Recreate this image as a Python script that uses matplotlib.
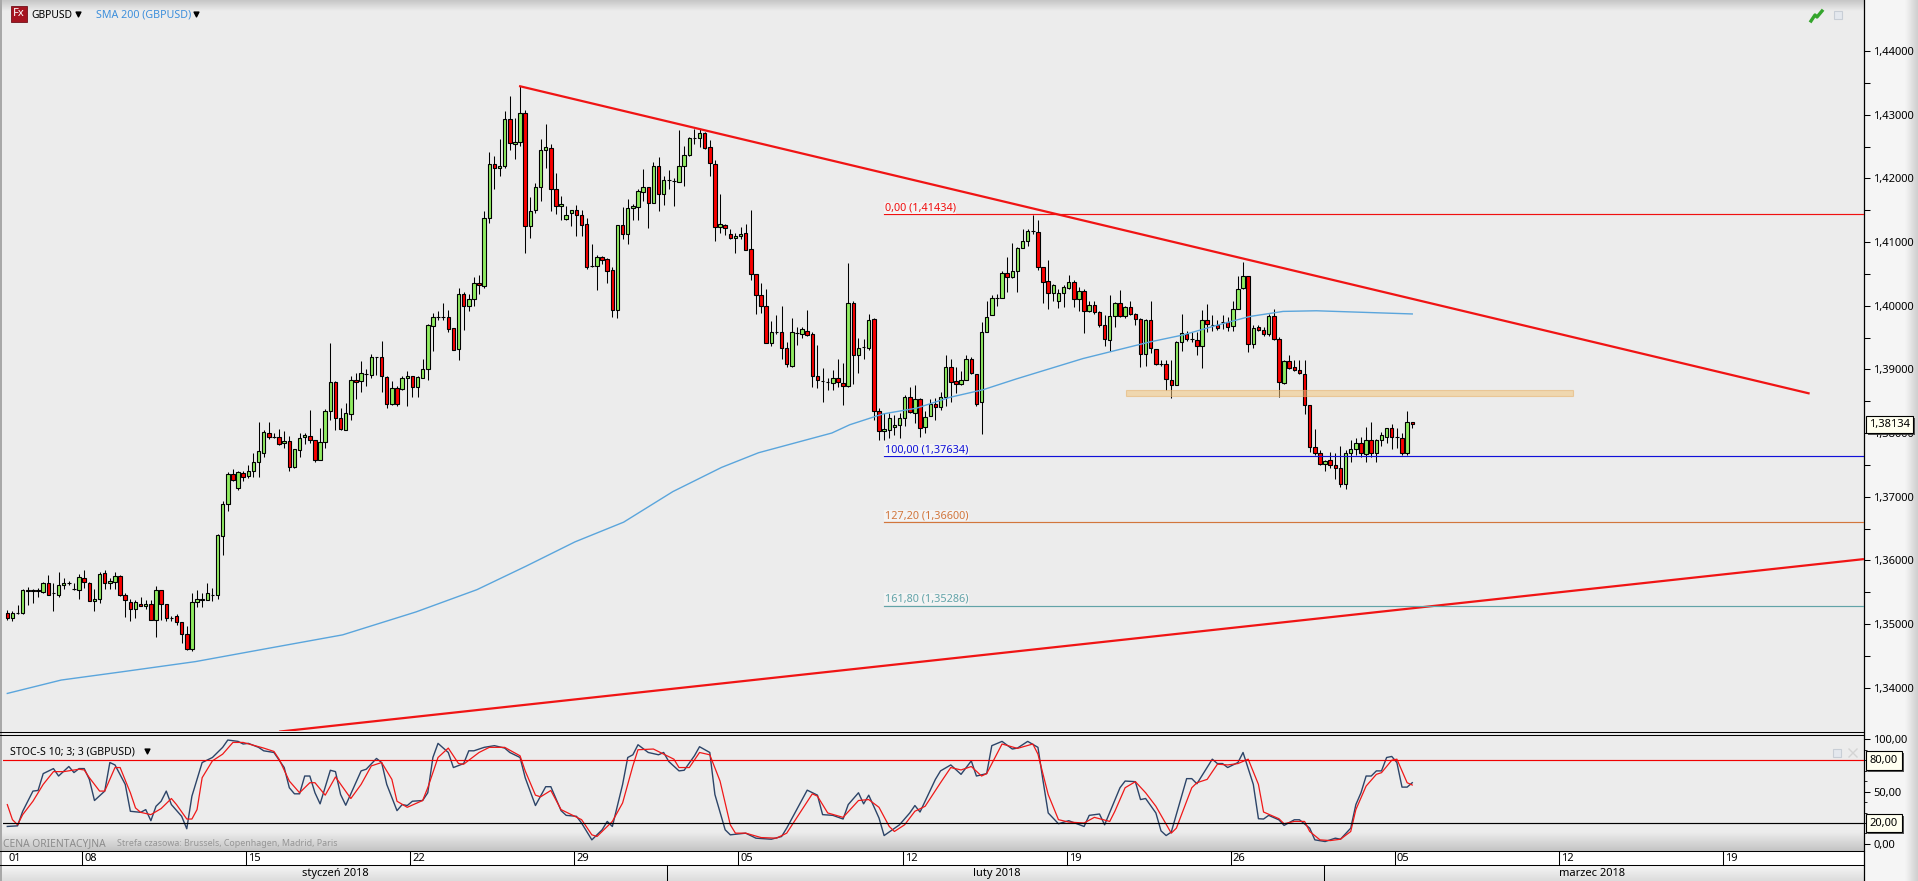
import numpy as np
import matplotlib
matplotlib.use('Agg')
import matplotlib.pyplot as plt
import matplotlib.patheffects as pe
from matplotlib.patches import Rectangle

plt.rcParams['font.family'] = ['Noto Sans', 'DejaVu Sans']

W, H = 1918, 881

# Candles, one row of values per ten bars
candle_open = [
    1.3517, 1.3509, 1.3517, 1.3517, 1.3554, 1.3552, 1.3554, 1.3550, 1.3564, 1.3548,
    1.3546, 1.3562, 1.3564, 1.3555, 1.3554, 1.3573, 1.3565, 1.3536, 1.3539, 1.3580,
    1.3564, 1.3566, 1.3576, 1.3545, 1.3535, 1.3523, 1.3532, 1.3529, 1.3532, 1.3507,
    1.3553, 1.3532, 1.3510, 1.3512, 1.3503, 1.3484, 1.3460, 1.3534, 1.3538, 1.3538,
    1.3546, 1.3546, 1.3638, 1.3688, 1.3735, 1.3713, 1.3737, 1.3732, 1.3740, 1.3754,
    1.3769, 1.3800, 1.3794, 1.3793, 1.3784, 1.3787, 1.3746, 1.3773, 1.3794, 1.3795,
    1.3789, 1.3758, 1.3786, 1.3834, 1.3880, 1.3823, 1.3805, 1.3830, 1.3883, 1.3881,
    1.3892, 1.3891, 1.3919, 1.3919, 1.3888, 1.3845, 1.3871, 1.3869, 1.3886, 1.3889,
    1.3872, 1.3886, 1.3900, 1.3968, 1.3983, 1.3983, 1.3982, 1.3965, 1.3932, 1.4019,
    1.3999, 1.4010, 1.4035, 1.4031, 1.4137, 1.4223, 1.4216, 1.4220, 1.4293, 1.4254,
    1.4257, 1.4302, 1.4125, 1.4150, 1.4187, 1.4244, 1.4247, 1.4183, 1.4156, 1.4136,
    1.4145, 1.4150, 1.4142, 1.4128, 1.4063, 1.4063, 1.4076, 1.4073, 1.4056, 1.3993,
    1.4126, 1.4112, 1.4153, 1.4155, 1.4178, 1.4186, 1.4161, 1.4220, 1.4175, 1.4198,
    1.4196, 1.4195, 1.4219, 1.4236, 1.4263, 1.4264, 1.4271, 1.4249, 1.4222, 1.4123,
    1.4127, 1.4112, 1.4106, 1.4110, 1.4114, 1.4089, 1.4049, 1.4016, 1.3999, 1.3942,
    1.3959, 1.3959, 1.3933, 1.3906, 1.3957, 1.3955, 1.3961, 1.3955, 1.3889, 1.3881,
    1.3880, 1.3878, 1.3886, 1.3879, 1.3874, 1.4004, 1.3922, 1.3935, 1.3934, 1.3979,
    1.3835, 1.3803, 1.3805, 1.3809, 1.3812, 1.3823, 1.3857, 1.3831, 1.3853, 1.3809,
    1.3826, 1.3846, 1.3841, 1.3856, 1.3903, 1.3881, 1.3877, 1.3883, 1.3917, 1.3893,
    1.3848, 1.3958, 1.3985, 1.4012, 1.4012, 1.4052, 1.4045, 1.4055, 1.4091, 1.4102,
    1.4117, 1.4116, 1.4061, 1.4039, 1.4020, 1.4008, 1.4020, 1.4028, 1.4037, 1.4011,
    1.4023, 1.3992, 1.4001, 1.3990, 1.3969, 1.3946, 1.3984, 1.4004, 1.3984, 1.3998,
    1.3987, 1.3979, 1.3924, 1.3978, 1.3932, 1.3908, 1.3908, 1.3884, 1.3876, 1.3943,
    1.3956, 1.3947, 1.3946, 1.3937, 1.3978, 1.3970, 1.3969, 1.3975, 1.3975, 1.3968,
    1.3995, 1.4028, 1.4047, 1.3940, 1.3966, 1.3962, 1.3955, 1.3984, 1.3948, 1.3879,
    1.3913, 1.3903, 1.3899, 1.3893, 1.3844, 1.3778, 1.3769, 1.3752, 1.3758, 1.3750,
    1.3745, 1.3720, 1.3768, 1.3775, 1.3784, 1.3767, 1.3789, 1.3768, 1.3789, 1.3794,
    1.3808, 1.3793, 1.3792, 1.3768, 1.3817,
]
candle_close = [
    1.3510, 1.3517, 1.3517, 1.3554, 1.3552, 1.3554, 1.3552, 1.3565, 1.3546, 1.3548,
    1.3561, 1.3565, 1.3564, 1.3555, 1.3574, 1.3566, 1.3536, 1.3540, 1.3579, 1.3564,
    1.3568, 1.3576, 1.3545, 1.3537, 1.3523, 1.3534, 1.3529, 1.3532, 1.3507, 1.3553,
    1.3532, 1.3510, 1.3510, 1.3503, 1.3484, 1.3461, 1.3534, 1.3539, 1.3540, 1.3548,
    1.3546, 1.3640, 1.3688, 1.3735, 1.3726, 1.3739, 1.3731, 1.3740, 1.3754, 1.3771,
    1.3801, 1.3794, 1.3794, 1.3783, 1.3787, 1.3746, 1.3775, 1.3792, 1.3797, 1.3789,
    1.3758, 1.3786, 1.3834, 1.3880, 1.3823, 1.3807, 1.3831, 1.3883, 1.3880, 1.3894,
    1.3892, 1.3920, 1.3919, 1.3889, 1.3846, 1.3871, 1.3845, 1.3886, 1.3889, 1.3872,
    1.3888, 1.3900, 1.3969, 1.3982, 1.3983, 1.3983, 1.3963, 1.3931, 1.4018, 1.3999,
    1.4010, 1.4035, 1.4032, 1.4137, 1.4222, 1.4216, 1.4220, 1.4293, 1.4255, 1.4257,
    1.4302, 1.4125, 1.4148, 1.4187, 1.4244, 1.4249, 1.4183, 1.4157, 1.4159, 1.4143,
    1.4150, 1.4142, 1.4126, 1.4061, 1.4063, 1.4076, 1.4071, 1.4054, 1.3994, 1.4126,
    1.4112, 1.4153, 1.4157, 1.4180, 1.4186, 1.4161, 1.4220, 1.4175, 1.4198, 1.4198,
    1.4196, 1.4219, 1.4236, 1.4263, 1.4263, 1.4271, 1.4247, 1.4224, 1.4123, 1.4128,
    1.4122, 1.4106, 1.4110, 1.4112, 1.4088, 1.4049, 1.4016, 1.3999, 1.3942, 1.3958,
    1.3959, 1.3933, 1.3908, 1.3958, 1.3957, 1.3963, 1.3954, 1.3889, 1.3883, 1.3881,
    1.3880, 1.3886, 1.3880, 1.3874, 1.4004, 1.3922, 1.3934, 1.3935, 1.3977, 1.3835,
    1.3803, 1.3806, 1.3823, 1.3812, 1.3823, 1.3857, 1.3833, 1.3853, 1.3808, 1.3825,
    1.3846, 1.3841, 1.3856, 1.3903, 1.3880, 1.3877, 1.3883, 1.3917, 1.3894, 1.3846,
    1.3958, 1.3983, 1.4012, 1.4012, 1.4052, 1.4045, 1.4055, 1.4091, 1.4102, 1.4117,
    1.4117, 1.4061, 1.4037, 1.4020, 1.4033, 1.4020, 1.4029, 1.4037, 1.4011, 1.4023,
    1.3992, 1.4001, 1.3990, 1.3969, 1.3948, 1.3984, 1.4004, 1.3984, 1.3998, 1.3987,
    1.3979, 1.3924, 1.3978, 1.3934, 1.3909, 1.3908, 1.3885, 1.3876, 1.3943, 1.3957,
    1.3947, 1.3947, 1.3937, 1.3978, 1.3971, 1.3970, 1.3965, 1.3975, 1.3966, 1.3995,
    1.4026, 1.4047, 1.3940, 1.3965, 1.3962, 1.3955, 1.3984, 1.3948, 1.3880, 1.3913,
    1.3902, 1.3899, 1.3894, 1.3844, 1.3778, 1.3769, 1.3752, 1.3756, 1.3749, 1.3745,
    1.3720, 1.3768, 1.3775, 1.3784, 1.3768, 1.3789, 1.3768, 1.3789, 1.3797, 1.3808,
    1.3794, 1.3793, 1.3768, 1.3817, 1.3814,
]
candle_high = [
    1.3522, 1.3520, 1.3530, 1.3555, 1.3558, 1.3555, 1.3557, 1.3566, 1.3577, 1.3564,
    1.3581, 1.3573, 1.3567, 1.3564, 1.3578, 1.3585, 1.3566, 1.3555, 1.3581, 1.3585,
    1.3572, 1.3581, 1.3577, 1.3548, 1.3540, 1.3538, 1.3543, 1.3538, 1.3538, 1.3560,
    1.3554, 1.3532, 1.3513, 1.3516, 1.3503, 1.3497, 1.3548, 1.3553, 1.3548, 1.3564,
    1.3557, 1.3642, 1.3693, 1.3738, 1.3743, 1.3740, 1.3740, 1.3749, 1.3768, 1.3818,
    1.3805, 1.3817, 1.3800, 1.3806, 1.3803, 1.3796, 1.3775, 1.3800, 1.3800, 1.3836,
    1.3789, 1.3808, 1.3838, 1.3941, 1.3881, 1.3839, 1.3847, 1.3889, 1.3894, 1.3913,
    1.3901, 1.3924, 1.3920, 1.3944, 1.3889, 1.3881, 1.3874, 1.3889, 1.3898, 1.3890,
    1.3889, 1.3916, 1.3971, 1.3988, 1.3991, 1.4004, 1.3994, 1.3965, 1.4027, 1.4021,
    1.4019, 1.4045, 1.4048, 1.4149, 1.4242, 1.4235, 1.4262, 1.4306, 1.4329, 1.4295,
    1.4345, 1.4308, 1.4171, 1.4192, 1.4262, 1.4286, 1.4254, 1.4208, 1.4172, 1.4157,
    1.4151, 1.4158, 1.4150, 1.4137, 1.4097, 1.4080, 1.4078, 1.4075, 1.4061, 1.4126,
    1.4155, 1.4167, 1.4160, 1.4184, 1.4215, 1.4186, 1.4225, 1.4233, 1.4204, 1.4213,
    1.4200, 1.4276, 1.4251, 1.4265, 1.4277, 1.4278, 1.4272, 1.4261, 1.4229, 1.4175,
    1.4129, 1.4120, 1.4114, 1.4123, 1.4129, 1.4150, 1.4049, 1.4035, 1.4026, 1.3976,
    1.3986, 1.4000, 1.3943, 1.3980, 1.3967, 1.3967, 1.3993, 1.3959, 1.3938, 1.3902,
    1.3886, 1.3899, 1.3917, 1.3910, 1.4067, 1.4007, 1.3950, 1.3947, 1.3987, 1.3980,
    1.3839, 1.3831, 1.3831, 1.3828, 1.3831, 1.3860, 1.3872, 1.3876, 1.3855, 1.3834,
    1.3853, 1.3855, 1.3865, 1.3923, 1.3917, 1.3904, 1.3897, 1.3923, 1.3919, 1.3893,
    1.3974, 1.4008, 1.4016, 1.4019, 1.4055, 1.4076, 1.4099, 1.4092, 1.4120, 1.4121,
    1.4143, 1.4134, 1.4061, 1.4072, 1.4034, 1.4026, 1.4032, 1.4048, 1.4040, 1.4029,
    1.4026, 1.4008, 1.4008, 1.3992, 1.3985, 1.4016, 1.4006, 1.4024, 1.4000, 1.4007,
    1.3988, 1.3981, 1.3979, 1.4008, 1.3932, 1.3914, 1.3914, 1.3914, 1.3945, 1.3987,
    1.3961, 1.3958, 1.3958, 1.3993, 1.4003, 1.3985, 1.3977, 1.3985, 1.3982, 1.4008,
    1.4046, 1.4069, 1.4047, 1.3969, 1.3969, 1.3966, 1.3987, 1.3995, 1.3951, 1.3915,
    1.3922, 1.3915, 1.3915, 1.3914, 1.3844, 1.3807, 1.3773, 1.3758, 1.3770, 1.3768,
    1.3779, 1.3774, 1.3789, 1.3792, 1.3793, 1.3810, 1.3818, 1.3790, 1.3802, 1.3808,
    1.3814, 1.3808, 1.3800, 1.3835, 1.3818,
]
candle_low = [
    1.3507, 1.3504, 1.3515, 1.3516, 1.3530, 1.3533, 1.3543, 1.3548, 1.3546, 1.3521,
    1.3543, 1.3555, 1.3561, 1.3553, 1.3539, 1.3557, 1.3536, 1.3520, 1.3533, 1.3555,
    1.3555, 1.3555, 1.3544, 1.3511, 1.3504, 1.3510, 1.3528, 1.3524, 1.3506, 1.3480,
    1.3507, 1.3504, 1.3504, 1.3498, 1.3470, 1.3459, 1.3458, 1.3527, 1.3527, 1.3538,
    1.3536, 1.3540, 1.3609, 1.3677, 1.3725, 1.3710, 1.3724, 1.3729, 1.3731, 1.3731,
    1.3763, 1.3790, 1.3792, 1.3781, 1.3776, 1.3741, 1.3745, 1.3763, 1.3783, 1.3784,
    1.3755, 1.3758, 1.3776, 1.3821, 1.3805, 1.3804, 1.3804, 1.3820, 1.3854, 1.3864,
    1.3874, 1.3886, 1.3891, 1.3865, 1.3839, 1.3844, 1.3842, 1.3867, 1.3842, 1.3857,
    1.3857, 1.3886, 1.3883, 1.3929, 1.3978, 1.3977, 1.3959, 1.3930, 1.3915, 1.3962,
    1.3992, 1.3999, 1.4018, 1.4027, 1.4130, 1.4184, 1.4203, 1.4216, 1.4244, 1.4231,
    1.4251, 1.4082, 1.4107, 1.4145, 1.4165, 1.4217, 1.4148, 1.4144, 1.4135, 1.4135,
    1.4125, 1.4110, 1.4110, 1.4057, 1.4060, 1.4025, 1.4066, 1.4035, 1.3983, 1.3980,
    1.4104, 1.4097, 1.4134, 1.4134, 1.4164, 1.4122, 1.4161, 1.4149, 1.4158, 1.4183,
    1.4157, 1.4195, 1.4188, 1.4235, 1.4254, 1.4249, 1.4246, 1.4203, 1.4101, 1.4114,
    1.4111, 1.4104, 1.4082, 1.4105, 1.4088, 1.4040, 1.3987, 1.3988, 1.3941, 1.3936,
    1.3955, 1.3917, 1.3903, 1.3904, 1.3939, 1.3950, 1.3953, 1.3872, 1.3870, 1.3848,
    1.3868, 1.3868, 1.3872, 1.3844, 1.3873, 1.3877, 1.3894, 1.3917, 1.3931, 1.3821,
    1.3789, 1.3789, 1.3792, 1.3797, 1.3792, 1.3811, 1.3831, 1.3815, 1.3794, 1.3800,
    1.3826, 1.3821, 1.3836, 1.3843, 1.3849, 1.3863, 1.3875, 1.3883, 1.3893, 1.3842,
    1.3799, 1.3958, 1.3985, 1.4000, 1.4012, 1.4021, 1.4044, 1.4021, 1.4090, 1.4094,
    1.4113, 1.4056, 1.4004, 1.3995, 1.4008, 1.3996, 1.3998, 1.4026, 1.3998, 1.3992,
    1.3957, 1.3990, 1.3987, 1.3967, 1.3936, 1.3929, 1.3966, 1.3982, 1.3980, 1.3985,
    1.3969, 1.3903, 1.3906, 1.3926, 1.3907, 1.3905, 1.3867, 1.3855, 1.3875, 1.3929,
    1.3944, 1.3943, 1.3922, 1.3902, 1.3958, 1.3960, 1.3962, 1.3964, 1.3961, 1.3961,
    1.3995, 1.4026, 1.3927, 1.3934, 1.3960, 1.3953, 1.3953, 1.3946, 1.3856, 1.3877,
    1.3900, 1.3897, 1.3892, 1.3830, 1.3770, 1.3765, 1.3749, 1.3740, 1.3745, 1.3727,
    1.3715, 1.3712, 1.3755, 1.3766, 1.3763, 1.3754, 1.3763, 1.3755, 1.3780, 1.3784,
    1.3775, 1.3776, 1.3766, 1.3766, 1.3808,
]

# SMA 200, bar position and price
sma_bar = [0, 10.5, 22.4, 36.7, 51, 65.4, 79.7, 91.6, 101.2, 110.7, 120.2, 129.8, 139.3,
           146.5, 160.8, 164.3, 170.8, 177.3, 183.8, 190.3, 196.8, 203.3, 209.8, 216.3,
           222.8, 229.3, 235.8, 242.3, 248.8, 255.3, 274]
sma_val = [1.3391, 1.3412, 1.3425, 1.3441, 1.3462, 1.3483, 1.3519, 1.3554, 1.3591, 1.3629,
           1.3660, 1.3708, 1.3746, 1.3769, 1.3800, 1.3813, 1.3830, 1.3839, 1.3856, 1.3868,
           1.3885, 1.3901, 1.3917, 1.3930, 1.3943, 1.3954, 1.3969, 1.3983, 1.3991, 1.3992,
           1.3987]

# Fibonacci levels
fib_labels = ['0,00 (1,41434)', '100,00 (1,37634)', '127,20 (1,36600)', '161,80 (1,35286)']
fib_prices = [1.41434, 1.37634, 1.36600, 1.35286]
fib_colors = ['#f01010', '#1010d8', '#d2763c', '#62a3a8']
fib_start = 171

# Trend lines and the zone
upper_line_bar = [99.8, 351.5]
upper_line_val = [1.4345, 1.3862]
lower_line_bar = [53, 362.1]
lower_line_val = [1.3331, 1.3602]
zone_bar = [218.2, 305.3]
zone_val = [1.3858, 1.3867]

# Slow stochastic, the dark %K and the red %D
stoch_k_bar = [
    0, 2, 3, 5, 6, 7, 9, 10, 12, 13, 14, 15, 16, 17, 19, 20, 21, 23, 24, 26, 27, 28, 29, 30, 31,
    32, 34, 35, 36, 38, 40, 42, 43, 45, 46, 47, 49, 50, 52, 54, 55, 56, 57, 58, 59, 60, 61, 63,
    64, 65, 66, 69, 70, 72, 73, 74, 76, 77, 78, 79, 81, 82, 83, 84, 86, 87, 89, 90, 91, 93, 95,
    97, 98, 100, 101, 103, 105, 106, 108, 109, 111, 112, 114, 116, 117, 118, 120, 121, 122, 123,
    125, 127, 128, 129, 131, 132, 134, 135, 137, 138, 140, 141, 144, 146, 149, 151, 152, 155,
    156, 158, 159, 161, 163, 164, 166, 167, 168, 170, 171, 174, 176, 177, 178, 181, 182, 184,
    186, 188, 189, 191, 192, 194, 196, 197, 199, 201, 202, 203, 205, 207, 210, 211, 213, 214,
    217, 218, 220, 221, 222, 224, 225, 226, 227, 230, 231, 232, 235, 236, 237, 238, 240, 241,
    243, 244, 245, 246, 248, 249, 251, 252, 254, 255, 257, 259, 260, 262, 263, 264, 265, 266,
    267, 268, 269, 270, 271, 272, 273, 274,
]
stoch_k = [
    16.7, 17.3, 31.2, 50.5, 51.1, 67.2, 72, 64.9, 74, 68.2, 72, 72, 61.7, 41.5, 50.5, 77.8, 75.5,
    56.9, 31.2, 30.2, 32.8, 22.2, 36, 40.8, 50.5, 37.6, 26.4, 14.5, 45.6, 77.8, 82.6, 92.3, 99.3,
    98, 95.5, 96.1, 92.3, 89, 87.4, 73, 53.7, 47.9, 47.9, 64.9, 64.9, 48.9, 38.3, 70.4, 69.1,
    47.2, 37, 69.8, 71.4, 81.7, 77.8, 56.9, 31.8, 37.6, 36.7, 40.8, 41.5, 48.9, 82.6, 96.1, 87.4,
    73, 76.8, 89, 89, 92.3, 93.9, 91.6, 87.4, 82.6, 63.3, 36.7, 54.7, 54.7, 31.8, 27.3, 26.4,
    19.9, 3.9, 13.5, 21.5, 16.7, 56.9, 82.6, 85.2, 94.8, 87.4, 85.2, 87.4, 78.8, 69.8, 70.4, 84.2,
    92.9, 87.4, 47.2, 13.5, 8.7, 10.3, 5.5, 4.5, 7.1, 15.1, 42.4, 51.4, 46.6, 28, 27.3, 23.8,
    37.6, 48.9, 38.3, 46.6, 24.8, 8, 18.3, 29.6, 36.7, 30.5, 61.7, 69.8, 75.5, 66.5, 79.4, 64.9,
    67.2, 93.9, 98, 90.7, 91.6, 98, 92.3, 60.1, 29.6, 19.3, 22.2, 16.7, 27.3, 28.6, 18.3, 53.7,
    60.1, 59.5, 42.4, 43.4, 29.6, 12.5, 8, 11.3, 62.4, 62.4, 57.5, 81, 76.8, 76.8, 73, 77.8, 87.4,
    56.9, 24.1, 23.8, 27.3, 23, 17.7, 23.1, 23.1, 15.1, 3.9, 2.3, 5.5, 4.5, 15.1, 37.6, 48.9,
    64.9, 64.9, 69.8, 69.8, 82.6, 83.6, 77.8, 54.3, 54.3, 58.5,
]
stoch_d_bar = [
    0, 1, 2, 3, 5, 7, 9, 11, 14, 15, 16, 18, 19, 21, 22, 24, 25, 26, 28, 30, 32, 33, 35, 36, 37,
    38, 40, 42, 44, 46, 50, 52, 53, 55, 57, 59, 60, 62, 64, 67, 69, 71, 73, 75, 76, 78, 81, 82,
    84, 86, 88, 89, 92, 94, 97, 100, 101, 103, 104, 106, 108, 112, 114, 115, 117, 118, 120, 122,
    123, 126, 128, 130, 131, 133, 135, 137, 139, 141, 142, 144, 147, 150, 152, 155, 157, 158,
    160, 163, 166, 168, 170, 172, 173, 175, 177, 179, 182, 184, 186, 188, 190, 191, 194, 197,
    200, 201, 203, 205, 207, 210, 212, 215, 216, 218, 220, 222, 224, 227, 228, 231, 232, 234,
    236, 238, 240, 242, 244, 245, 248, 249, 251, 253, 254, 256, 258, 260, 262, 263, 265, 267,
    268, 270, 271, 272, 273, 274,
]
stoch_d = [
    37.6, 23.2, 18.3, 28, 40.8, 56.9, 69.1, 69.1, 71.4, 70.7, 63.3, 50.5, 50.5, 73, 73, 48.9,
    34.4, 30.2, 28, 33.8, 43.4, 37.6, 23.8, 23.8, 32.8, 63.3, 79.4, 85.8, 97, 97, 91.6, 88.4, 81,
    60.1, 48.9, 58.5, 58.5, 46.6, 64, 43.4, 56.9, 74.6, 77.8, 61.7, 40.8, 35, 41.5, 53.7, 82.6,
    91.6, 76.8, 76.2, 87.4, 92.3, 92.3, 84.2, 69.8, 46.6, 45, 51.1, 32.8, 23.2, 8.7, 7.1, 16.7,
    21.5, 39.2, 74.6, 90, 90.7, 85.8, 81, 73, 73, 87.4, 85.2, 60.1, 18.3, 10.3, 10.3, 6.1, 5.5,
    10.3, 32.8, 47.9, 45.6, 29.6, 25.4, 41.5, 42.4, 35, 16.7, 11.9, 18.3, 31.2, 36, 58.5, 73,
    70.7, 74, 64.9, 67.2, 95.5, 91.3, 95.5, 85.8, 47.2, 23.2, 20.9, 20, 25.4, 21.5, 31.2, 53.7,
    59.5, 48.9, 36, 10.3, 15.1, 53.7, 58.5, 61.7, 76.2, 75.5, 76.8, 81, 56.9, 30.5, 24.1, 19.3,
    21.5, 21.5, 11.9, 3.9, 3.2, 4.5, 11.9, 32.8, 55.3, 66.5, 68.1, 80, 81, 69.8, 58.5, 56.3,
]

# Axis text
price_ticks = [1.34, 1.35, 1.36, 1.37, 1.38, 1.39, 1.40, 1.41, 1.42, 1.43, 1.44]
price_labels = ['1,34000', '1,35000', '1,36000', '1,37000', '1,38000', '1,39000',
                '1,40000', '1,41000', '1,42000', '1,43000', '1,44000']
last_price = 1.38134
last_label = '1,38134'
stoch_ticks = [0, 50, 100]
stoch_labels = ['0,00', '50,00', '100,00']
stoch_levels = [80, 20]
stoch_level_labels = ['80,00', '20,00']
stoch_level_colors = ['#f00000', 'black']
week_bars = [14.6, 46.6, 78.6, 110.6, 142.6, 174.6, 206.6, 238.6, 270.6, 302.6, 334.6]
week_labels = ['08', '15', '22', '29', '05', '12', '19', '26', '05', '12', '19']
month_bars = [128.6, 256.8]
month_labels = ['styczeń 2018', 'luty 2018', 'marzec 2018']
month_centers = [64, 193, 309]

bar_left = -0.84
bar_right = 362.1
label_size = 8


def px_axes(left, top, right, bottom):
    a = fig.add_axes([left / W, 1 - bottom / H, (right - left) / W, (bottom - top) / H])
    a.patch.set_alpha(0)
    return a


def gradient(a, x0, x1, y0, y1, c0, c1, vertical=True):
    c0 = np.array(matplotlib.colors.to_rgb(c0))
    c1 = np.array(matplotlib.colors.to_rgb(c1))
    t = np.linspace(0, 1, 32)
    img = np.outer(t, c1) + np.outer(1 - t, c0)
    img = img[:, None, :] if vertical else img[None, :, :]
    a.imshow(img, extent=[x0, x1, y1, y0], aspect='auto', zorder=1, interpolation='bilinear')


def shadow(annotation):
    annotation.get_bbox_patch().set_path_effects(
        [pe.withSimplePatchShadow(offset=(1.5, -1.5), shadow_rgbFace='#404040', alpha=0.9)])


fig = plt.figure(figsize=(W / 100, H / 100), dpi=100, facecolor='#ececec')

# window chrome goes in an axes measured in pixels
chrome = fig.add_axes([0, 0, 1, 1])
chrome.axis('off')
gradient(chrome, 0, 1864, 0, 11, '#c6c6c6', '#ececec')
gradient(chrome, 0, 1864, 832, 851, '#ececec', '#c4c4c4')
chrome.add_patch(Rectangle((1864, 0), 54, 881, fc='#f5f5f5', ec='none', zorder=1))
gradient(chrome, 1905, 1918, 0, 881, '#f5f5f5', '#cfcfcf', vertical=False)
chrome.add_patch(Rectangle((0, 851), 1864, 14, fc='white', ec='none', zorder=2))
gradient(chrome, 0, 1864, 865, 881, '#f6f6f6', '#dcdcdc')
chrome.add_patch(Rectangle((0, 0), 2, 881, fc='#a8a8a8', ec='none', zorder=3))
for y in [732, 734.5, 851, 865]:
    chrome.plot([0, 1864], [y, y], color='black', lw=0.75, zorder=4)
chrome.plot([1864, 1864], [0, 881], color='black', lw=0.9, zorder=4)

chrome.add_patch(Rectangle((11, 6), 16, 16, fc='#a51420', ec='#70101a', lw=0.6, zorder=4))
chrome.text(19, 14, 'Fx', color='white', fontsize=8, fontweight='bold', ha='center', va='center', zorder=5)
chrome.text(31, 15, 'GBPUSD', color='black', fontsize=7.4, va='center', zorder=5)
chrome.text(96, 15, 'SMA 200 (GBPUSD)', color='#3d8fdc', fontsize=7.7, va='center', zorder=5)
chrome.text(10, 752, 'STOC-S 10; 3; 3 (GBPUSD)', color='black', fontsize=7.6, va='center', zorder=5)
chrome.scatter([78, 196, 147], [14, 14, 751], marker='v', s=12, color='black', zorder=5)
chrome.text(3, 844, 'CENA ORIENTACYJNA', color='#8c8c8c', fontsize=7.4, va='center', zorder=5)
chrome.text(117, 844, 'Strefa czasowa: Brussels, Copenhagen, Madrid, Paris', color='#969696',
            fontsize=6.4, va='center', zorder=5)
chrome.plot([1811, 1815, 1817, 1822], [21, 15, 17, 11], color='#34a52c', lw=2.4, zorder=5)
for x0, y0 in [(1834, 11), (1833, 749)]:
    chrome.add_patch(Rectangle((x0, y0), 8, 8, fc='#e4e8ee', ec='#c8ced6', lw=0.8, zorder=5))
chrome.plot([1849, 1857], [749, 757], color='#d4d4d4', lw=1, zorder=5)
chrome.plot([1849, 1857], [757, 749], color='#d4d4d4', lw=1, zorder=5)
chrome.set_xlim(0, W)
chrome.set_ylim(H, 0)

# price panel
ax = px_axes(3, 0, 1864, 731)
ax.set_xlim(bar_left, bar_right)
ax.set_ylim(1.44 - 680 / 6367, 1.44 + 51 / 6367)

bars = np.arange(len(candle_open))
o = np.array(candle_open)
c = np.array(candle_close)
hi = np.array(candle_high)
lo = np.array(candle_low)
colors = np.where(c >= o, '#90ec62', '#fa0000')

ax.vlines(bars, lo, hi, color='black', lw=0.75, zorder=3)
ax.bar(bars, np.abs(c - o), bottom=np.minimum(o, c), width=0.68, color=colors,
       edgecolor='black', linewidth=0.8, zorder=4)

ax.add_patch(Rectangle((zone_bar[0], zone_val[0]), zone_bar[1] - zone_bar[0], zone_val[1] - zone_val[0],
                       fc='#f2c67e', ec='#e6b06a', lw=0.8, alpha=0.55, zorder=5))
ax.plot(sma_bar, sma_val, color='#5aa5dc', lw=1.0, zorder=5)
ax.plot(upper_line_bar, upper_line_val, color='#f01414', lw=1.6, zorder=6, solid_capstyle='butt')
ax.plot(lower_line_bar, lower_line_val, color='#f01414', lw=1.6, zorder=6, solid_capstyle='butt')

for label, price, col in zip(fib_labels, fib_prices, fib_colors):
    ax.plot([fib_start, bar_right], [price, price], color=col, lw=0.85, zorder=6)
    ax.annotate(label, (fib_start, price), xytext=(0.5, 0.8), textcoords='offset points', color=col,
                fontsize=7.8, va='bottom', ha='left', zorder=7,
                bbox=dict(fc='#f3f3f3', ec='none', pad=0.3))

ax.yaxis.tick_right()
ax.set_yticks(price_ticks, price_labels, fontsize=label_size)
ax.set_yticks(np.array(price_ticks[:-1]) + 0.005, minor=True)
ax.tick_params(axis='y', which='major', length=4, width=0.75, pad=2.5)
ax.tick_params(axis='y', which='minor', length=4, width=0.75)
ax.set_xticks([])
for s in ax.spines.values():
    s.set_visible(False)
last_note = ax.annotate(last_label, (1, last_price), xycoords=('axes fraction', 'data'), xytext=(3.5, 0),
                        textcoords='offset points', fontsize=label_size, va='center', ha='left', zorder=10,
                        annotation_clip=False,
                        bbox=dict(boxstyle='square,pad=0.25', fc='#fffff0', ec='black', lw=0.8))
shadow(last_note)

# stochastic panel
ax2 = px_axes(3, 735, 1864, 851)
ax2.set_xlim(bar_left, bar_right)
ax2.set_ylim(-6.75, 104.1)
ax2.plot(stoch_k_bar, stoch_k, color='#2c4468', lw=1.0, zorder=3)
ax2.plot(stoch_d_bar, stoch_d, color='#f01818', lw=0.9, zorder=4)
for lev, label, col in zip(stoch_levels, stoch_level_labels, stoch_level_colors):
    ax2.axhline(lev, color=col, lw=0.85, zorder=5)
    note = ax2.annotate(label, (1, lev), xycoords=('axes fraction', 'data'), xytext=(4, 0),
                        textcoords='offset points', fontsize=label_size, va='center', ha='left', zorder=10,
                        annotation_clip=False,
                        bbox=dict(boxstyle='square,pad=0.35', fc='#fffff0', ec='black', lw=0.8))
    shadow(note)
ax2.yaxis.tick_right()
ax2.set_yticks(stoch_ticks, stoch_labels, fontsize=label_size)
ax2.set_yticks(np.arange(10, 100, 10), minor=True)
ax2.tick_params(axis='y', which='major', length=4, width=0.75, pad=2.5)
ax2.tick_params(axis='y', which='minor', length=2.5, width=0.6)
ax2.set_xticks([])
for s in ax2.spines.values():
    s.set_visible(False)

# date bands, same x scale as the panels
ax3 = px_axes(3, 851, 1864, 881)
ax3.set_xlim(bar_left, bar_right)
ax3.set_ylim(1, 0)
ax3.axis('off')
ax3.text(bar_left + 1, 0.24, '01', fontsize=label_size, va='center', ha='left')
for pos, label in zip(week_bars, week_labels):
    ax3.plot([pos, pos], [0, 0.47], color='black', lw=0.75)
    ax3.text(pos + 0.4, 0.24, label, fontsize=label_size, va='center', ha='left')
for pos in month_bars:
    ax3.plot([pos, pos], [0.47, 1], color='black', lw=0.75)
for pos, label in zip(month_centers, month_labels):
    ax3.text(pos, 0.74, label, fontsize=label_size, va='center', ha='center')

fig.savefig('out.png', dpi=100, facecolor=fig.get_facecolor())
